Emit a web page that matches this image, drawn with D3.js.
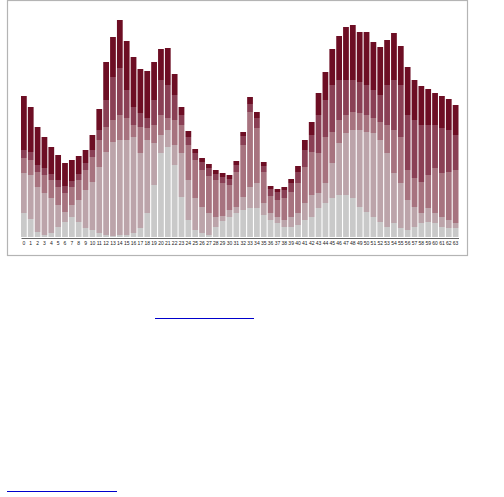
<!DOCTYPE html>
<html><head><meta charset="utf-8">
<script src="https://cdn.jsdelivr.net/npm/d3@7/dist/d3.min.js"></script>
<style>body{margin:0;background:#fff;}svg{display:block;}</style>
</head><body>
<script>
const categories = d3.range(64).map(String);
const layerNames = ["gray","pink","mid","darkmid","dark"];
const gray = [24,18,5,2,4,10,15,20,15,9,7,4,2,1,2,2,4,9,24,52,84,90,72,40,17,7,4,2,10,16,20,24,27,29,29,22,17,14,10,10,12,17,20,29,34,39,42,42,39,30,25,20,15,10,14,9,7,10,14,15,14,10,9,9];
const pink = [40,44,45,42,35,22,10,12,22,38,48,66,83,94,95,95,96,75,73,42,18,17,20,44,40,32,26,22,10,5,7,6,13,21,25,12,7,6,7,10,12,17,22,15,20,35,52,62,68,77,80,84,82,74,50,45,30,20,10,14,10,10,8,5];
const mid = [15,15,15,18,18,18,19,18,20,20,25,27,25,22,25,22,12,26,12,18,20,12,25,28,35,38,37,37,37,33,25,35,52,75,55,31,17,17,22,25,30,36,43,40,46,31,23,18,18,17,17,15,18,28,43,46,30,29,31,33,45,44,48,53];
const darkmid = [8,8,7,7,6,7,7,6,6,7,7,10,27,43,47,28,18,14,10,25,35,33,25,10,8,7,8,8,6,6,6,7,9,8,10,6,7,8,8,9,11,17,17,38,37,47,40,35,32,31,30,28,27,40,50,52,55,58,57,50,43,45,42,35];
const dark = [54,45,38,31,27,25,23,21,18,13,15,21,38,40,48,49,50,44,47,38,31,37,21,8,6,4,4,4,4,4,4,4,4,7,6,4,3,3,3,4,6,10,13,22,28,36,44,53,55,50,53,48,48,45,47,39,48,40,39,36,32,32,31,30];
const colors = ["#c9c9c9","#bca4aa","#a7737f","#8a4055","#6d0e24"];

const table = categories.map((c,i)=>({cat:c, gray:gray[i], pink:pink[i], mid:mid[i], darkmid:darkmid[i], dark:dark[i]}));
const series = d3.stack().keys(layerNames)(table);

const W=504,H=497;
const svg = d3.select("body").append("svg").attr("width",W).attr("height",H);

svg.append("rect").attr("x",7.5).attr("y",0.5).attr("width",460).attr("height",255)
  .attr("fill","none").attr("stroke","#b4b4b4").attr("stroke-width",1.2);

const x = d3.scaleBand().domain(categories).range([21,458.5]).paddingInner(0.16).paddingOuter(0);
const maxT = d3.max(series[series.length-1], d=>d[1]);
const y = d3.scaleLinear().domain([0,maxT]).range([237,20]);

svg.append("g").selectAll("g").data(series).join("g")
  .attr("fill",(d,i)=>colors[i])
  .selectAll("rect").data(d=>d).join("rect")
  .attr("x",d=>x(d.data.cat)).attr("width",x.bandwidth())
  .attr("y",d=>y(d[1])).attr("height",d=>Math.max(0,y(d[0])-y(d[1])));

const ax = svg.append("g").attr("transform","translate(0,238)")
  .call(d3.axisBottom(x).tickSize(0).tickPadding(3));
ax.select(".domain").attr("stroke","#666").attr("stroke-width",1.2);
ax.selectAll("text").attr("font-size",5).attr("font-family","Liberation Sans, Arial, sans-serif").attr("fill","#222");

svg.append("line").attr("x1",155).attr("x2",254).attr("y1",318.5).attr("y2",318.5).attr("stroke","#0000cc").attr("stroke-width",1);
svg.append("line").attr("x1",7).attr("x2",117).attr("y1",491.5).attr("y2",491.5).attr("stroke","#0000cc").attr("stroke-width",1);
</script>
</body></html>
